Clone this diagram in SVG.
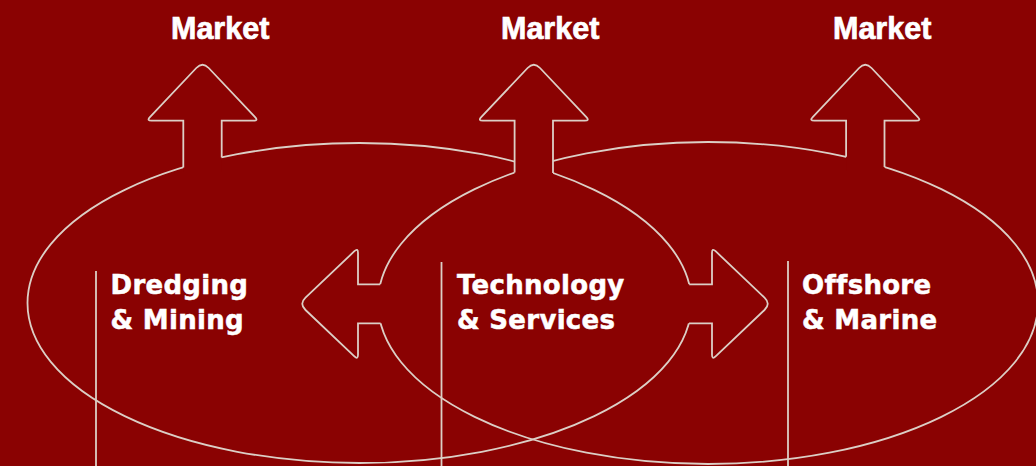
<svg xmlns="http://www.w3.org/2000/svg" width="1036" height="466" viewBox="0 0 1036 466">
<style>
.ln{fill:none;stroke:#DCCFC6;stroke-width:1.8}
.bg{fill:#8A0202;stroke:none}
.mk{font-family:"Liberation Sans",Arial,sans-serif;font-weight:bold;font-size:30.5px;fill:#ffffff;stroke:#ffffff;stroke-width:0.7}
.lb{font-family:"DejaVu Sans",sans-serif;font-weight:bold;font-size:26px;letter-spacing:0.3px;fill:#ffffff;stroke:#ffffff;stroke-width:0.5}
</style>
<rect x="0" y="0" width="1036" height="466" fill="#8A0202"/>
<g id="connectors">
<ellipse class="ln" cx="359.5" cy="303" rx="332" ry="160"/>
<ellipse class="ln" cx="708" cy="303" rx="330" ry="161"/>
<line class="ln" x1="96" y1="271" x2="96" y2="466"/>
<line class="ln" x1="441.5" y1="262" x2="441.5" y2="466"/>
<line class="ln" x1="788" y1="261" x2="788" y2="466"/>
</g>
<g id="arrow-up-left">
<path class="bg" d="M183.3,172 V120.7 H146.5 L202.5,61.5 L258.5,120.7 H221.7 V172 Z"/>
<path class="ln" d="M183.3,167.4 V120.7 H151.5 Q146.5,120.7 149.9,117.1 L196.3,68 Q202.5,61.5 208.7,68 L255.1,117.1 Q258.5,120.7 253.5,120.7 H221.7 V157.4"/>
</g>
<g id="arrow-up-middle">
<path class="bg" d="M514.6,175.5 V120.7 H477.8 L533.8,61.5 L589.8,120.7 H553 V175.5 Z"/>
<path class="ln" d="M514.6,172.6 V120.7 H482.8 Q477.8,120.7 481.2,117.1 L527.6,68 Q533.8,61.5 540,68 L586.4,117.1 Q589.8,120.7 584.8,120.7 H553 V173"/>
</g>
<g id="arrow-up-right">
<path class="bg" d="M846.1,171 V120.7 H809.3 L865.3,61.5 L921.3,120.7 H884.5 V171 Z"/>
<path class="ln" d="M846.1,156.8 V120.7 H814.3 Q809.3,120.7 812.7,117.1 L859.1,68 Q865.3,61.5 871.5,68 L917.9,117.1 Q921.3,120.7 916.3,120.7 H884.5 V167"/>
</g>
<g id="arrow-left">
<path class="bg" d="M384,284.3 H358 V247.8 L299,303.8 L358,359.8 V323.3 H384 Z"/>
<path class="ln" d="M380.2,284.3 H358 V252.8 Q358,247.8 354.4,251.2 L305.5,297.6 Q299,303.8 305.5,310 L354.4,356.4 Q358,359.8 358,354.8 V323.3 H380.6"/>
</g>
<g id="arrow-right">
<path class="bg" d="M686,284.3 H712 V247.8 L771,303.8 L712,359.8 V323.3 H686 Z"/>
<path class="ln" d="M689.2,284.3 H712 V252.8 Q712,247.8 715.6,251.2 L764.5,297.6 Q771,303.8 764.5,310 L715.6,356.4 Q712,359.8 712,354.8 V323.3 H689"/>
</g>
<g id="market-1"><text class="mk" x="171" y="39.3">Market</text></g>
<g id="market-2"><text class="mk" x="501" y="39.3">Market</text></g>
<g id="market-3"><text class="mk" x="833" y="39.3">Market</text></g>
<g id="dredging-mining">
<text class="lb" x="110.5" y="294">Dredging</text>
<text class="lb" x="110.5" y="329">&amp; Mining</text>
</g>
<g id="technology-services">
<text class="lb" x="457" y="294">Technology</text>
<text class="lb" x="457" y="329">&amp; Services</text>
</g>
<g id="offshore-marine">
<text class="lb" x="802" y="294">Offshore</text>
<text class="lb" x="802" y="329">&amp; Marine</text>
</g>
</svg>
